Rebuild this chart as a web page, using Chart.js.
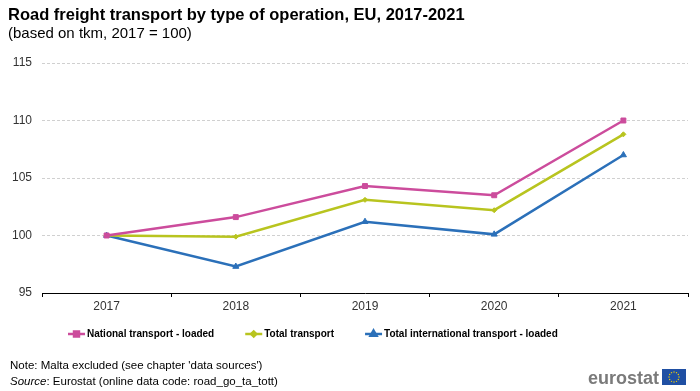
<!DOCTYPE html>
<html>
<head>
<meta charset="utf-8">
<script src="https://cdn.jsdelivr.net/npm/chart.js@4.4.1/dist/chart.umd.min.js"></script>
<style>
  html, body { margin: 0; padding: 0; background: #fff; }
  #wrap { width: 700px; height: 391px; position: relative; }
</style>
</head>
<body>
<div id="wrap"><canvas id="freightChart" width="700" height="391"></canvas></div>
<script>
const years = ['2017', '2018', '2019', '2020', '2021'];
const nationalLoaded = [100, 101.6, 104.3, 103.5, 110.0];
const totalTransport = [100, 99.9, 103.1, 102.2, 108.8];
const internationalLoaded = [100, 97.3, 101.2, 100.1, 107.0];
const yTicks = [95, 100, 105, 110, 115];

const FONT = '"Liberation Sans", Arial, sans-serif';

// titles, legend, notes and logo drawn straight on the canvas
const decorations = {
  id: 'decorations',
  afterDraw(chart) {
    const ctx = chart.ctx;
    ctx.save();
    ctx.fillStyle = '#000';
    ctx.textBaseline = 'alphabetic';
    ctx.textAlign = 'left';
    ctx.font = 'bold 16.5px ' + FONT;
    ctx.fillText('Road freight transport by type of operation, EU, 2017-2021', 8, 20);
    ctx.font = '15px ' + FONT;
    ctx.fillText('(based on tkm, 2017 = 100)', 8, 38);

    // legend
    let x = 68;
    const y = 334;
    ctx.font = 'bold 10px ' + FONT;
    chart.data.datasets.forEach(ds => {
      ctx.strokeStyle = ds.borderColor;
      ctx.lineWidth = 2.5;
      ctx.beginPath();
      ctx.moveTo(x, y);
      ctx.lineTo(x + 17, y);
      ctx.stroke();
      Chart.helpers.drawPoint(ctx, {
        pointStyle: ds.pointStyle,
        radius: ds.pointRadius,
        borderWidth: 1
      }, x + 8.5, y);
      ctx.fillStyle = ds.borderColor;
      ctx.fill();
      ctx.fillStyle = '#000';
      ctx.textBaseline = 'middle';
      ctx.fillText(ds.label, x + 19, y);
      x += 19 + ctx.measureText(ds.label).width + 31;
    });

    // notes
    ctx.textBaseline = 'alphabetic';
    ctx.font = '11.5px ' + FONT;
    ctx.fillStyle = '#000';
    ctx.fillText("Note: Malta excluded (see chapter 'data sources')", 10, 369);
    ctx.font = 'italic 11.5px ' + FONT;
    ctx.fillText('Source', 10, 385);
    const w = ctx.measureText('Source').width;
    ctx.font = '11.5px ' + FONT;
    ctx.fillText(': Eurostat (online data code: road_go_ta_tott)', 10 + w, 385);

    // eurostat logo
    ctx.font = 'bold 18px ' + FONT;
    ctx.fillStyle = '#7a7a7a';
    ctx.textAlign = 'right';
    ctx.fillText('eurostat', 659, 384);
    ctx.fillStyle = '#1f4fa3';
    ctx.fillRect(662, 369, 24, 16);
    ctx.fillStyle = '#f5d300';
    for (let i = 0; i < 12; i++) {
      const a = i * Math.PI / 6;
      ctx.beginPath();
      ctx.arc(674 + Math.cos(a) * 5, 377 + Math.sin(a) * 5, 0.7, 0, Math.PI * 2);
      ctx.fill();
    }
    ctx.restore();
  }
};

new Chart(document.getElementById('freightChart'), {
  type: 'line',
  data: {
    labels: years,
    datasets: [{
      label: 'National transport - loaded',
      data: nationalLoaded,
      borderColor: '#cc4c9c',
      backgroundColor: '#cc4c9c',
      pointStyle: 'rect',
      pointRadius: 3.5
    }, {
      label: 'Total transport',
      data: totalTransport,
      borderColor: '#b8c41f',
      backgroundColor: '#b8c41f',
      pointStyle: 'rectRot',
      pointRadius: 2.5
    }, {
      label: 'Total international transport - loaded',
      data: internationalLoaded,
      borderColor: '#2b70b9',
      backgroundColor: '#2b70b9',
      pointStyle: 'triangle',
      pointRadius: 3.5
    }]
  },
  options: {
    responsive: false,
    animation: false,
    layout: {
      padding: { left: 0, right: 12, top: 63, bottom: 73 }
    },
    elements: {
      line: { tension: 0, borderWidth: 2.5 },
      point: { borderWidth: 1 }
    },
    plugins: {
      legend: { display: false },
      tooltip: { enabled: false }
    },
    scales: {
      x: {
        offset: true,
        afterFit: (scale) => { scale.height = 25; },
        grid: {
          offset: true,
          drawOnChartArea: false,
          drawTicks: true,
          tickLength: 4,
          color: '#000'
        },
        border: { display: true, color: '#000', width: 1 },
        ticks: {
          padding: 2,
          color: '#333',
          font: { family: FONT, size: 12 }
        }
      },
      y: {
        min: 95,
        max: 115,
        afterFit: (scale) => { scale.width = 42; },
        afterBuildTicks: (scale) => { scale.ticks = yTicks.map(v => ({ value: v })); },
        grid: {
          drawTicks: false,
          color: '#d0d0d0',
          lineWidth: 1
        },
        border: { display: false, dash: [3, 2] },
        ticks: {
          padding: 10,
          color: '#333',
          font: { family: FONT, size: 12 }
        }
      }
    }
  },
  plugins: [decorations]
});
</script>
</body>
</html>
